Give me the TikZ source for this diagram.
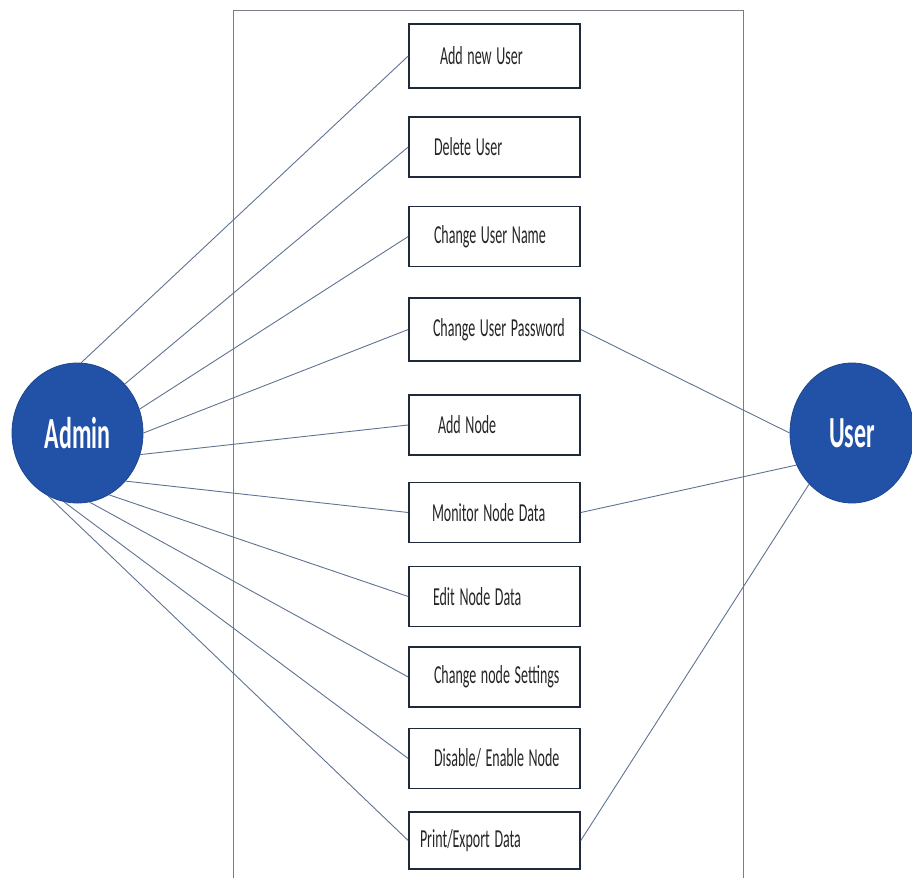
\documentclass[tikz,border=0pt]{standalone}
\usepackage{fontspec}
\usepackage{graphicx}
\setmainfont{Carlito}
\usetikzlibrary{shapes.geometric}
\definecolor{actorblue}{RGB}{33,82,168}
\definecolor{linkgray}{RGB}{95,115,145}
\definecolor{boxedge}{RGB}{30,42,58}
\definecolor{framegray}{RGB}{120,125,135}
% tall, narrow lettering
\newcommand\vstretch[1]{\scalebox{1}[1.85]{#1}}
\newcommand\uctext[2]{\hspace*{#1pt}\vstretch{#2}}

\begin{document}
\begin{tikzpicture}[x=1pt,y=-1pt,
  usecase/.style={draw=boxedge, line width=1.6pt, fill=white,
    minimum height=60pt, text width=171pt, inner xsep=0pt, inner ysep=0pt,
    align=left, font=\fontsize{14}{16}\selectfont, text=black!85},
  actor/.style={ellipse, fill=actorblue, draw=actorblue!85!black, line width=0.8pt,
    minimum width=131pt, minimum height=140pt, inner sep=0pt, text=white,
    font=\bfseries\fontsize{24}{28}\selectfont},
  link/.style={draw=linkgray, line width=0.9pt}]

\useasboundingbox (0,0) rectangle (912,878);

% system boundary
\draw[framegray, line width=1pt] (233,878) -- (233,10) -- (743,10) -- (743,878);

% use cases
\node[usecase, minimum height=64pt] (b1)  at (494.5,56)    {\uctext{31}{Add new User}};
\node[usecase] (b2)  at (494.5,147)   {\uctext{25}{Delete User}};
\node[usecase] (b3)  at (494.5,236.5) {\uctext{25}{Change User Name}};
\node[usecase, minimum height=63pt] (b4)  at (494.5,329.5) {\uctext{24}{Change User Password}};
\node[usecase] (b5)  at (494.5,425)   {\uctext{29}{Add Node}};
\node[usecase] (b6)  at (494.5,512.5) {\uctext{23}{Monitor Node Data}};
\node[usecase] (b7)  at (494.5,596.5) {\uctext{24}{Edit Node Data}};
\node[usecase] (b8)  at (494.5,677)   {\uctext{25}{Change node Settings}};
\node[usecase] (b9)  at (494.5,758.5) {\uctext{25}{Disable/ Enable Node}};
\node[usecase, minimum height=57pt] (b10) at (494.5,840.5) {\uctext{11}{Print/Export Data}};

% actors
\node[actor] (admin) at (77.5,433) {\vstretch{Admin}};
\node[actor, minimum width=124pt] (user) at (852,433) {\vstretch{User}};

% admin associations
\draw[link] (admin.87)   -- (b1.west);
\draw[link] (admin.46)   -- (b2.west);
\draw[link] (admin.21)   -- (b3.west);
\draw[link] (admin.0)    -- (b4.west);
\draw[link] (admin.-19)  -- (b5.west);
\draw[link] (admin.-45)  -- (b6.west);
\draw[link] (admin.-63)  -- (b7.west);
\draw[link] (admin.-80)  -- (b8.west);
\draw[link] (admin.-101) -- (b9.west);
\draw[link] (admin.-115) -- (b10.west);

% user associations
\draw[link] (b4.east)  -- (user.180);
\draw[link] (b6.east)  -- (user.-150);
\draw[link] (b10.east) -- (user.-130);
\end{tikzpicture}
\end{document}
